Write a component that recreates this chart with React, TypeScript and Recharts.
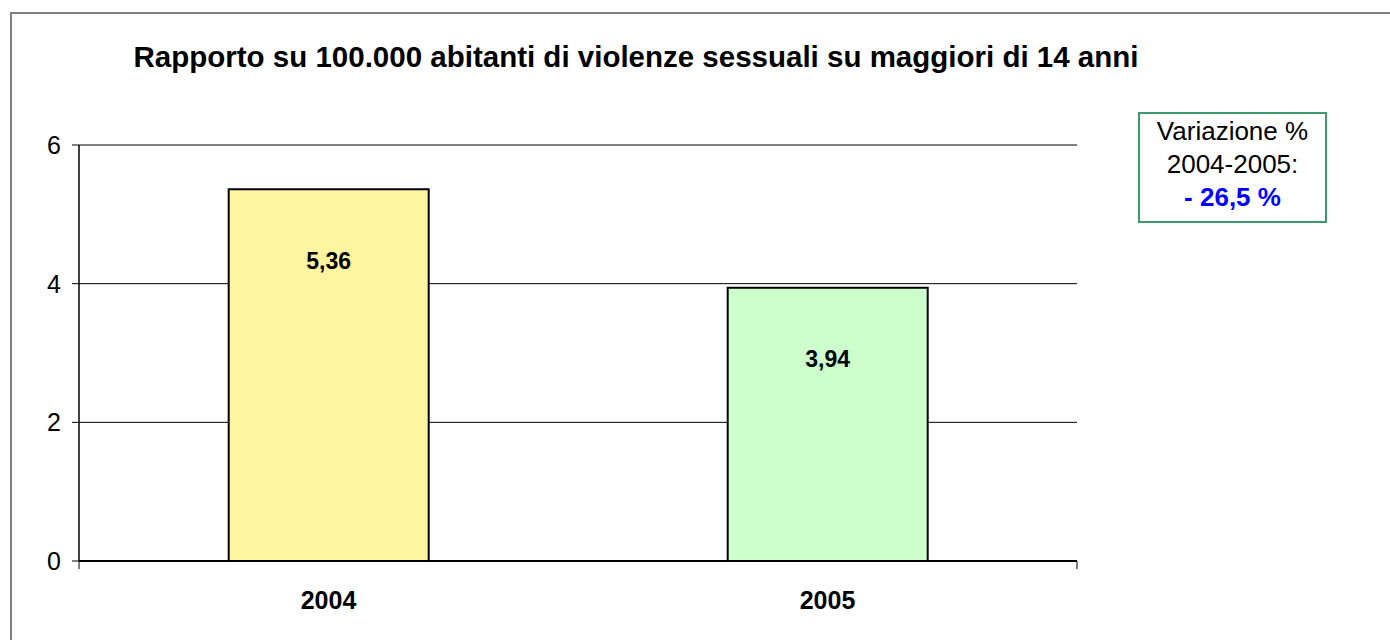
import React from 'react';
import { BarChart, Bar, XAxis, YAxis, CartesianGrid, ReferenceLine, LabelList, Cell } from 'recharts';

const years = ['2004', '2005'];
const values = [5.36, 3.94];
const colors = ['#FFF5A0', '#CCFFCC'];
const yTicks = [0, 2, 4, 6];
const title = 'Rapporto su 100.000 abitanti di violenze sessuali su maggiori di 14 anni';
const boxLines = ['Variazione %', '2004-2005:', '- 26,5 %'];

const data = years.map((y, i) => ({ year: y, value: values[i] }));

const FONT = '"Liberation Sans", Arial, sans-serif';

const EmptyTick = () => <g />;

const YTick = (props: any) => {
  const { x, y, payload } = props;
  return (
    <text x={x - 9} y={y} dy={9} textAnchor="end" fill="#000" style={{ fontSize: '25px', fontFamily: FONT }}>
      {payload.value}
    </text>
  );
};

export default function App() {
  return (
    <div style={{ position: 'fixed', left: 0, top: 0, width: 1390, height: 640, background: '#fff', fontFamily: FONT, overflow: 'hidden' }}>
      <div style={{ position: 'absolute', left: 10, top: 12, width: 1400, height: 700, borderLeft: '2px solid #808080', borderTop: '2px solid #808080', boxSizing: 'border-box' }} />
      <div style={{ position: 'absolute', left: 0, width: 1272, top: 39, textAlign: 'center', fontWeight: 'bold', fontSize: 29.5, lineHeight: '36px', color: '#000', whiteSpace: 'nowrap' }}>{title}</div>
      <div style={{ position: 'absolute', left: 1138, top: 112, width: 189, height: 111, border: '2px solid #3C9A6C', boxSizing: 'border-box', textAlign: 'center', fontSize: 26, lineHeight: '33px', paddingTop: 1, background: '#fff', whiteSpace: 'nowrap' }}>
        <div>{boxLines[0]}</div>
        <div>{boxLines[1]}</div>
        <div style={{ color: '#0000FF', fontWeight: 'bold' }}>{boxLines[2]}</div>
      </div>
      <div style={{ position: 'absolute', left: 0, top: 0 }}>
        <BarChart width={1390} height={640} data={data} margin={{ top: 145, right: 313, bottom: 79 - 8 - 50, left: 10 }} barCategoryGap="30%">
          <CartesianGrid vertical={false} stroke="#000" strokeWidth={1} />
          <ReferenceLine y={6} stroke="#808080" strokeWidth={2} />
          <XAxis xAxisId="a" type="number" domain={[0, 2]} ticks={[0, 1, 2]} tick={EmptyTick} tickSize={8} tickLine={{ stroke: '#000', strokeWidth: 1 }} axisLine={{ stroke: '#000', strokeWidth: 2 }} height={8} allowDataOverflow />
          <XAxis xAxisId="b" dataKey="year" axisLine={false} tickLine={false} height={50} tick={{ fill: '#000', fontSize: 25, fontWeight: 'bold', fontFamily: FONT }} dy={14} />
          <YAxis width={69} domain={[0, 6]} ticks={yTicks} tickSize={7} tick={YTick} stroke="#000" axisLine={{ stroke: '#000', strokeWidth: 1.5 }} tickLine={{ stroke: '#000', strokeWidth: 1 }} />
          <YAxis yAxisId="r" orientation="right" width={0} tick={EmptyTick} tickLine={false} axisLine={{ stroke: '#808080', strokeWidth: 2 }} />
          <Bar dataKey="value" xAxisId="b" stroke="#000" strokeWidth={2} isAnimationActive={false}>
            {data.map((d, i) => (
              <Cell key={d.year} fill={colors[i]} />
            ))}
            <LabelList dataKey="value" position="insideTop" offset={63} formatter={(v: any) => Number(v).toFixed(2).replace('.', ',')} style={{ fill: '#000', fontSize: 23, fontWeight: 'bold', fontFamily: FONT }} />
          </Bar>
        </BarChart>
      </div>
    </div>
  );
}
